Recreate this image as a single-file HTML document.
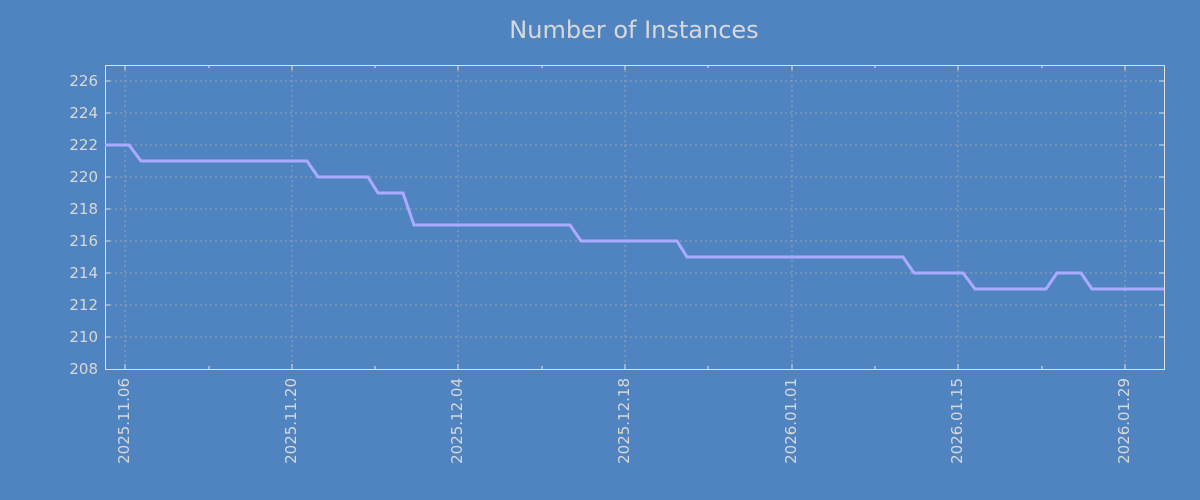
<!DOCTYPE html>
<html><head><style>body{margin:0;background:#5083c0;}svg{display:block}</style></head><body>
<svg width="1200" height="500" xmlns="http://www.w3.org/2000/svg" font-family="DejaVu Sans, Liberation Sans, sans-serif">
<rect width="1200" height="500" fill="#5084c0"/>
<text x="634" y="38" text-anchor="middle" font-size="24" fill="#d8d8d8">Number of Instances</text>
<g stroke="#b0b0b0" stroke-width="1" stroke-dasharray="2,3" opacity="0.7">
<line x1="105" x2="1164" y1="81" y2="81"/><line x1="105" x2="1164" y1="113" y2="113"/><line x1="105" x2="1164" y1="145" y2="145"/><line x1="105" x2="1164" y1="177" y2="177"/><line x1="105" x2="1164" y1="209" y2="209"/><line x1="105" x2="1164" y1="241" y2="241"/><line x1="105" x2="1164" y1="273" y2="273"/><line x1="105" x2="1164" y1="305" y2="305"/><line x1="105" x2="1164" y1="337" y2="337"/>
<line y1="65" y2="369" x1="125" x2="125"/><line y1="65" y2="369" x1="292" x2="292"/><line y1="65" y2="369" x1="458" x2="458"/><line y1="65" y2="369" x1="625" x2="625"/><line y1="65" y2="369" x1="792" x2="792"/><line y1="65" y2="369" x1="958" x2="958"/><line y1="65" y2="369" x1="1125" x2="1125"/>
</g>
<rect x="105.5" y="65.5" width="1059" height="304" fill="none" stroke="#e0e0e0" stroke-width="1"/>
<g stroke="#e0e0e0" stroke-width="1">
<path d="M125 65v5M292 65v5M458 65v5M625 65v5M792 65v5M958 65v5M1125 65v5M125 369v-5M292 369v-5M458 369v-5M625 369v-5M792 369v-5M958 369v-5M1125 369v-5M209 65v3M375 65v3M542 65v3M708 65v3M875 65v3M1042 65v3M209 369v-3M375 369v-3M542 369v-3M708 369v-3M875 369v-3M1042 369v-3"/>
<path d="M105 81h5M105 113h5M105 145h5M105 177h5M105 209h5M105 241h5M105 273h5M105 305h5M105 337h5M1164 81h-5M1164 113h-5M1164 145h-5M1164 177h-5M1164 209h-5M1164 241h-5M1164 273h-5M1164 305h-5M1164 337h-5"/>
</g>
<g font-size="15" fill="#d8d8d8" text-anchor="end">
<text x="98" y="86">226</text><text x="98" y="118">224</text><text x="98" y="150">222</text><text x="98" y="182">220</text><text x="98" y="214">218</text><text x="98" y="246">216</text><text x="98" y="278">214</text><text x="98" y="310">212</text><text x="98" y="342">210</text><text x="98" y="374">208</text>
</g>
<g font-size="15" fill="#d8d8d8" text-anchor="end">
<text transform="translate(129,378) rotate(-90)">2025.11.06</text>
<text transform="translate(296,378) rotate(-90)">2025.11.20</text>
<text transform="translate(462,378) rotate(-90)">2025.12.04</text>
<text transform="translate(629,378) rotate(-90)">2025.12.18</text>
<text transform="translate(796,378) rotate(-90)">2026.01.01</text>
<text transform="translate(962,378) rotate(-90)">2026.01.15</text>
<text transform="translate(1129,378) rotate(-90)">2026.01.29</text>
</g>
<polyline fill="none" stroke="#aaaaff" stroke-width="3" points="105,145 129,145 141,161 307,161 318,177 368,177 378,193 403,193 414,225 570,225 581,241 677,241 687,257 903,257 914,273 963,273 975,289 1046,289 1057,273 1081,273 1092,289 1164,289"/>
</svg>
</body></html>
